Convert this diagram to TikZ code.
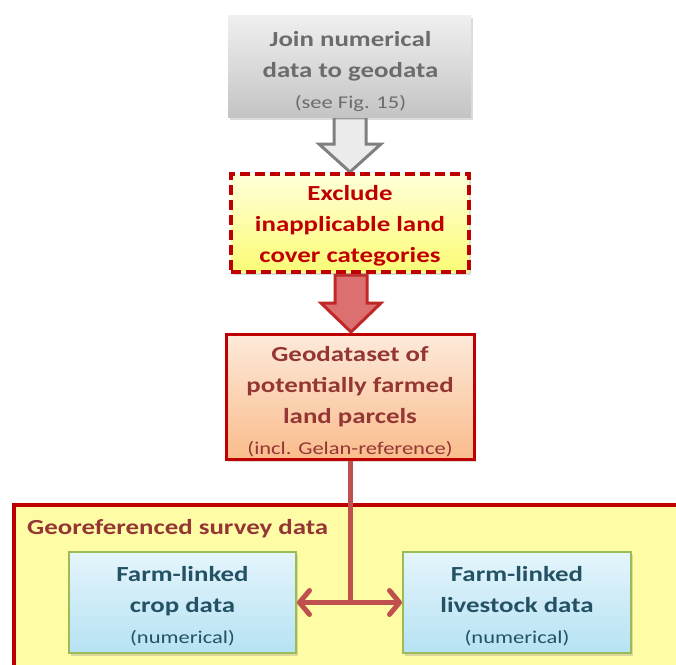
\documentclass[tikz,border=0pt]{standalone}
\usepackage{fontspec}
\setmainfont{Carlito}[FakeStretch=1.25]
\usetikzlibrary{calc,shadows,arrows.meta}

\definecolor{boxred}{RGB}{192,0,0}
\definecolor{linkred}{RGB}{192,80,77}
\definecolor{titlered}{RGB}{148,54,52}
\definecolor{grayhi}{RGB}{240,240,240}
\definecolor{graylo}{RGB}{196,196,196}
\definecolor{graytext}{RGB}{108,108,108}
\definecolor{garrowfill}{RGB}{236,236,236}
\definecolor{garrowdraw}{RGB}{128,128,128}
\definecolor{yellowhi}{RGB}{255,255,218}
\definecolor{yellowlo}{RGB}{252,252,118}
\definecolor{rarrowfill}{RGB}{220,112,112}
\definecolor{rarrowdraw}{RGB}{192,40,40}
\definecolor{orangehi}{RGB}{253,234,218}
\definecolor{orangelo}{RGB}{250,188,140}
\definecolor{surveyfill}{RGB}{255,252,166}
\definecolor{bluehi}{RGB}{229,245,252}
\definecolor{bluelo}{RGB}{182,226,243}
\definecolor{blueedge}{RGB}{155,187,89}
\definecolor{bluetext}{RGB}{35,82,100}

\newcommand\mybig{\fontsize{21.5}{31}\selectfont\bfseries}
\newcommand\mysmall{\fontsize{18}{26}\selectfont\mdseries}

\tikzset{
  basebox/.style={rectangle, inner sep=0pt,
    drop shadow={opacity=0.28, shadow xshift=2pt, shadow yshift=-3pt}},
  boxtext/.style={align=center, inner sep=0pt, font=\mybig},
  joinbox/.style={basebox, top color=grayhi, bottom color=graylo},
  excludebox/.style={basebox, draw=boxred, line width=4pt,
    dash pattern=on 10pt off 5pt, top color=yellowhi, bottom color=yellowlo},
  parcelbox/.style={basebox, draw=boxred, line width=3pt,
    top color=orangehi, bottom color=orangelo},
  databox/.style={basebox, draw=blueedge, line width=2pt,
    top color=bluehi, bottom color=bluelo},
  surveybox/.style={rectangle, draw=boxred, line width=4pt, fill=surveyfill,
    inner sep=0pt},
  grayblock/.style={draw=garrowdraw, fill=garrowfill, line width=3pt,
    line join=miter},
  redblock/.style={draw=rarrowdraw, fill=rarrowfill, line width=3pt,
    line join=miter},
  link/.style={draw=linkred, line width=5pt},
  twoway/.style={link, {Straight Barb[length=10pt,width=24pt,round]}-{Straight Barb[length=10pt,width=24pt,round]}},
}

\begin{document}
\begin{tikzpicture}[x=1pt, y=-1pt]
\useasboundingbox (0,0) rectangle (676,664);
\clip (0,0) rectangle (676,664);

% outer frame for the survey data
\node[surveybox, minimum width=690pt, minimum height=190pt, anchor=north west]
  (survey) at (12,503) {};
\node[anchor=west, font=\mybig, text=titlered, inner sep=0pt]
  (surveytitle) at (27,529) {Georeferenced survey data};

% block arrows between the upper boxes (drawn first, boxes overlap their ends)
\coordinate (joinfoot) at (350,117);
\coordinate (exclhead) at (350,173);
\coordinate (exclfoot) at (351,273);
\coordinate (geohead) at (351,333);
\draw[grayblock]
  ($(joinfoot)+(-16,0)$) -- ($(exclhead)+(-16,-29)$) -- ($(exclhead)+(-31,-29)$)
  -- ($(exclhead)+(0,-1)$) -- ($(exclhead)+(31,-29)$) -- ($(exclhead)+(16,-29)$)
  -- ($(joinfoot)+(16,0)$) -- cycle;
\draw[redblock]
  ($(exclfoot)+(-16,2)$) -- ($(geohead)+(-16,-30)$) -- ($(geohead)+(-30,-30)$)
  -- ($(geohead)+(0,-1)$) -- ($(geohead)+(30,-30)$) -- ($(geohead)+(16,-30)$)
  -- ($(exclfoot)+(16,2)$) -- cycle;

% main boxes
\node[joinbox, minimum width=243pt, minimum height=102pt] (join) at (349.5,66) {};
\node[excludebox, minimum width=238pt, minimum height=98pt] (excl) at (350,223) {};
\node[parcelbox, minimum width=248pt, minimum height=125pt] (geo) at (350,396.5) {};
\node[databox, minimum width=227pt, minimum height=101pt] (crop) at (182.5,602.5) {};
\node[databox, minimum width=228pt, minimum height=101pt] (live) at (517,602.5) {};

% box captions
\node[boxtext, text=graytext] (jointext) at ($(join.center)+(1,6)$)
  {Join numerical\\data to geodata\\{\mysmall (see Fig. 15)}};
\node[boxtext, text=boxred] (excltext) at ($(excl.center)+(0,3)$)
  {Exclude\\inapplicable land\\cover categories};
\node[boxtext, text=titlered] (geotext) at ($(geo.center)+(0,5)$)
  {Geodataset of\\potentially farmed\\land parcels\\{\mysmall (incl. Gelan-reference)}};
\node[boxtext, text=bluetext] (croptext) at ($(crop.center)+(0,4)$)
  {Farm-linked\\crop data\\{\mysmall (numerical)}};
\node[boxtext, text=bluetext] (livetext) at ($(live.center)+(0,4)$)
  {Farm-linked\\livestock data\\{\mysmall (numerical)}};

% link from the parcels down to the survey data
\coordinate (hub) at (geo.south |- crop.east);
\draw[link] (geo.south) -- (hub);
\draw[twoway] (crop.east) -- (live.west);
\end{tikzpicture}
\end{document}
